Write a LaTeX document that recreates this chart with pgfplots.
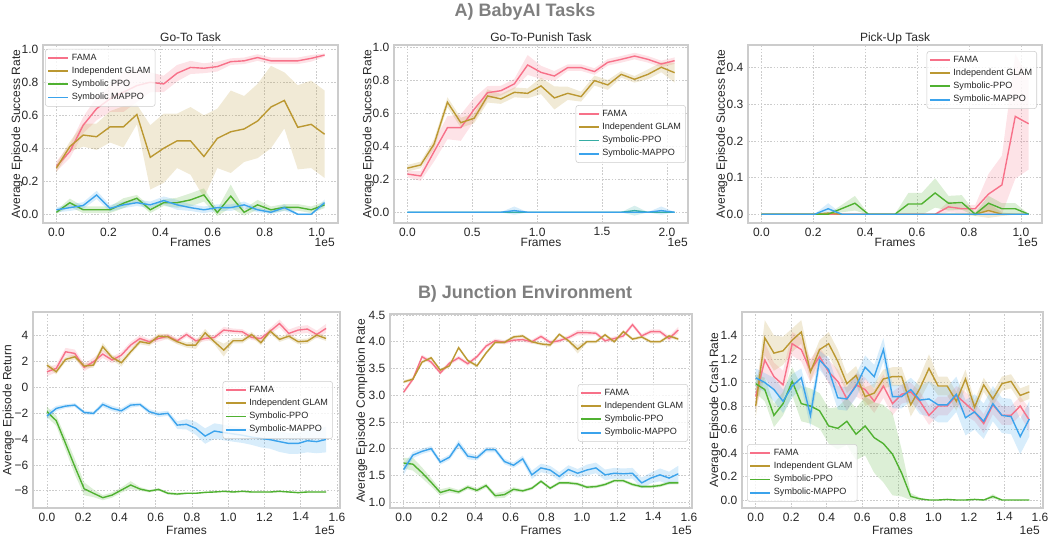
\documentclass[border=0pt]{standalone}
\usepackage{pgfplots}
\pgfplotsset{compat=1.18}
\usepackage{pgfplotstable}
\usepgfplotslibrary{fillbetween}
\usepackage{fontspec}
\setmainfont{Liberation Sans}
\definecolor{cF}{HTML}{F77189}
\definecolor{cG}{HTML}{BB9832}
\definecolor{cP}{HTML}{50B131}
\definecolor{cT}{HTML}{36ADA4}
\definecolor{cM}{HTML}{3BA3EC}
\definecolor{gridc}{HTML}{CCCCCC}
\definecolor{txt}{HTML}{262626}
\definecolor{head}{HTML}{7F7F7F}

\newcommand{\band}[5]{%
 \addplot[draw=none, forget plot, name path=#5U#2] table[x=x, y expr=\thisrow{#2}+\thisrow{#3}] {#1};
 \addplot[draw=none, forget plot, name path=#5L#2] table[x=x, y expr=\thisrow{#2}-\thisrow{#3}] {#1};
 \addplot[fill=#4, fill opacity=0.2, draw=none, forget plot] fill between[of=#5U#2 and #5L#2];
}
\newcommand{\lines}[4]{%
 \addplot[color=cF, forget plot] table[x=x,y=f] {#1};
 \addplot[color=cG, forget plot] table[x=x,y=g] {#1};
 \addplot[color=#2, forget plot] table[x=x,y=p] {#1};
 \addplot[color=cM, forget plot] table[x=x,y=m] {#1};
 \addlegendimage{legend image code/.code={\draw[cF, line width=1.4pt, opacity=1] (0pt,0pt) -- (15pt,0pt);}}\addlegendentry{FAMA}
 \addlegendimage{legend image code/.code={\draw[cG, line width=1.4pt, opacity=1] (0pt,0pt) -- (15pt,0pt);}}\addlegendentry{Independent GLAM}
 \addlegendimage{legend image code/.code={\draw[#2, line width=1.4pt, opacity=1] (0pt,0pt) -- (15pt,0pt);}}\addlegendentry{#3}
 \addlegendimage{legend image code/.code={\draw[cM, line width=1.4pt, opacity=1] (0pt,0pt) -- (15pt,0pt);}}\addlegendentry{#4}
}
\newcommand{\lab}{\fontsize{9}{10}\selectfont}

\pgfplotstableread{
x f fs g gs p ps m ms
0      0.29  0.03 0.28  0.025 0.012 0.01  0.027 0.015
0.0515 0.38  0.04 0.41  0.03  0.07  0.025 0.04  0.02
0.103  0.54  0.05 0.48  0.07  0.027 0.02  0.053 0.02
0.1545 0.64  0.07 0.47  0.08  0.027 0.02  0.117 0.025
0.206  0.70  0.08 0.53  0.095 0.027 0.02  0.036 0.02
0.2575 0.74  0.12 0.53  0.125 0.067 0.03  0.057 0.02
0.309  0.78  0.10 0.605 0.06  0.097 0.02  0.07  0.02
0.3605 0.80  0.06 0.345 0.195 0.027 0.02  0.057 0.02
0.412  0.79  0.05 0.40  0.21  0.07  0.02  0.083 0.025
0.4635 0.855 0.05 0.445 0.165 0.07  0.03  0.057 0.03
0.515  0.89  0.04 0.445 0.205 0.087 0.04  0.04  0.02
0.5665 0.885 0.03 0.35  0.25  0.117 0.04  0.027 0.02
0.618  0.895 0.03 0.46  0.18  0.01  0.02  0.04  0.02
0.6695 0.925 0.02 0.50  0.25  0.11  0.07  0.04  0.02
0.721  0.93  0.02 0.517 0.2   0.012 0.02  0.057 0.02
0.7725 0.95  0.02 0.565 0.225 0.057 0.03  0.027 0.015
0.824  0.93  0.02 0.65  0.25  0.027 0.02  0.012 0.01
0.8755 0.93  0.02 0.69  0.17  0.042 0.02  0.04  0.02
0.927  0.93  0.02 0.527 0.255 0.042 0.02  0     0.005
0.9785 0.945 0.02 0.545 0.265 0.027 0.02  0     0.005
1.03   0.965 0.01 0.485 0.265 0.057 0.02  0.07  0.02
}\tA

\pgfplotstableread{
x f fs g gs p ps m ms
0     0.232 0.02 0.267 0.02 0 0.001 0 0.001
0.103 0.22  0.03 0.287 0.02 0 0.001 0 0.001
0.206 0.368 0.06 0.414 0.03 0 0.001 0 0.001
0.309 0.513 0.07 0.667 0.03 0 0.001 0 0.001
0.412 0.513 0.08 0.543 0.03 0 0.001 0 0.001
0.515 0.624 0.07 0.57  0.03 0 0.001 0 0.001
0.618 0.725 0.04 0.705 0.04 0 0.001 0 0.001
0.721 0.737 0.03 0.687 0.03 0 0.001 0 0.001
0.824 0.778 0.03 0.727 0.03 0 0.001 0.01 0.025
0.927 0.893 0.06 0.721 0.03 0 0.001 0 0.001
1.03  0.848 0.04 0.766 0.05 0 0.001 0 0.001
1.133 0.826 0.03 0.693 0.07 0 0.001 0 0.001
1.236 0.877 0.02 0.721 0.04 0 0.001 0 0.001
1.339 0.877 0.02 0.701 0.03 0 0.001 0 0.001
1.442 0.853 0.02 0.798 0.03 0 0.001 0 0.001
1.545 0.909 0.02 0.772 0.03 0 0.001 0 0.001
1.648 0.927 0.02 0.836 0.02 0 0.001 0 0.001
1.751 0.947 0.02 0.806 0.02 0.01 0.03 0 0.001
1.854 0.927 0.02 0.836 0.03 0 0.001 0 0.001
1.957 0.899 0.02 0.879 0.03 0 0.001 0.01 0.025
2.06  0.919 0.02 0.846 0.06 0 0.001 0 0.001
}\tB

\pgfplotstableread{
x f fs g gs p ps m ms
0      0 0.001 0 0.001 0 0.001 0 0.001
0.0515 0 0.001 0 0.001 0 0.001 0 0.001
0.103  0 0.001 0 0.001 0 0.001 0 0.001
0.1545 0 0.001 0 0.001 0 0.001 0 0.001
0.206  0 0.001 0 0.001 0 0.001 0 0.001
0.2575 0 0.001 0.003 0.003 0 0.001 0.015 0.015
0.309  0 0.001 0 0.001 0.015 0.01 0 0.001
0.3605 0 0.001 0 0.001 0.03 0.02 0 0.001
0.412  0 0.001 0 0.001 0 0.001 0 0.001
0.4635 0 0.001 0 0.001 0 0.001 0 0.001
0.515  0 0.001 0 0.001 0 0.001 0 0.001
0.5665 0 0.001 0 0.001 0.028 0.03 0 0.001
0.618  0 0.001 0 0.001 0.028 0.03 0 0.001
0.6695 0 0.001 0 0.001 0.058 0.04 0 0.001
0.721  0.02 0.015 0 0.001 0.03 0.02 0 0.001
0.7725 0.015 0.012 0 0.001 0.032 0.02 0 0.001
0.824  0.015 0.01 0 0.005 0 0.005 0 0.001
0.8755 0.055 0.055 0.01 0.02 0.03 0.02 0 0.001
0.927  0.08 0.08 0 0.005 0.015 0.015 0 0.001
0.9785 0.267 0.17 0 0.001 0.015 0.015 0 0.001
1.03   0.247 0.125 0 0.001 0 0.001 0 0.001
}\tC

\pgfplotstableread{
x f fs g gs p ps m ms
0 1.21 0.35 1.73 0.2 -1.88 0.4 -2.22 0.3
0.0513 1.47 0.3 1.21 0.2 -2.58 0.4 -1.63 0.2
0.1027 2.76 0.3 2.17 0.2 -4.34 0.5 -1.45 0.15
0.154 2.63 0.3 2.37 0.2 -6.14 0.6 -1.37 0.15
0.2053 1.55 0.3 1.65 0.2 -7.85 0.5 -1.94 0.15
0.2567 1.99 0.3 1.73 0.2 -8.2 0.3 -2.01 0.15
0.308 2.58 0.3 3.15 0.3 -8.54 0.2 -1.32 0.2
0.3593 2.12 0.25 2.32 0.2 -8.34 0.2 -1.63 0.2
0.4107 2.5 0.25 1.91 0.3 -7.95 0.2 -1.81 0.2
0.462 3.28 0.25 2.76 0.2 -7.56 0.3 -1.37 0.2
0.5133 3.79 0.25 3.54 0.2 -7.87 0.15 -1.32 0.15
0.5647 3.54 0.2 3.41 0.2 -8.03 0.1 -1.88 0.2
0.616 3.79 0.25 3.97 0.2 -7.9 0.1 -2.09 0.2
0.6673 3.97 0.2 3.92 0.2 -8.2 0.1 -2.01 0.2
0.7187 3.61 0.2 3.54 0.2 -8.26 0.1 -2.92 0.3
0.77 4.1 0.2 3.28 0.2 -8.2 0.05 -2.86 0.4
0.8213 3.61 0.2 3.28 0.3 -8.2 0.05 -3.17 0.5
0.8727 3.79 0.2 4.23 0.3 -8.13 0.05 -3.77 0.6
0.924 3.87 0.2 3.54 0.2 -8.1 0.05 -3.38 0.6
0.9753 4.44 0.25 2.89 0.5 -8.05 0.05 -3.5 0.6
1.0267 4.36 0.2 3.61 0.2 -8.1 0.05 -3.6 0.6
1.078 4.31 0.2 3.61 0.2 -8.05 0.05 -3.7 0.6
1.1293 3.87 0.2 4.1 0.2 -8.1 0.05 -3.85 0.6
1.1807 3.79 0.2 3.46 0.2 -8.1 0.05 -3.95 0.7
1.232 4.36 0.25 4.36 0.2 -8.1 0.05 -4.05 0.7
1.2833 4.95 0.3 3.72 0.2 -8.05 0.05 -4.2 0.8
1.3347 4.18 0.3 3.97 0.2 -8.1 0.05 -4.34 0.8
1.386 4.44 0.3 3.54 0.2 -8.15 0.05 -4.34 0.8
1.4373 4.52 0.3 3.59 0.2 -8.1 0.05 -4.13 0.9
1.4887 4.1 0.3 4.05 0.2 -8.1 0.05 -4.2 0.9
1.54 4.57 0.35 3.79 0.2 -8.1 0.05 -4.03 1.0
}\tD

\pgfplotstableread{
x f fs g gs p ps m ms
0 3.06 0.04 3.25 0.03 1.73 0.1 1.61 0.1
0.0513 3.30 0.04 3.30 0.03 1.71 0.12 1.88 0.06
0.1027 3.72 0.04 3.62 0.03 1.55 0.1 1.95 0.05
0.154 3.62 0.04 3.70 0.03 1.37 0.08 2.0 0.05
0.2053 3.42 0.04 3.47 0.03 1.18 0.06 1.75 0.05
0.2567 3.60 0.04 3.55 0.03 1.23 0.05 1.84 0.05
0.308 3.70 0.04 3.89 0.03 1.19 0.04 2.09 0.07
0.3593 3.59 0.04 3.65 0.03 1.28 0.04 1.86 0.06
0.4107 3.72 0.04 3.55 0.03 1.22 0.04 1.83 0.05
0.462 3.92 0.04 3.79 0.03 1.31 0.04 1.98 0.05
0.5133 4.02 0.04 3.99 0.03 1.12 0.05 1.98 0.05
0.5647 3.99 0.04 3.99 0.03 1.14 0.06 1.76 0.05
0.616 4.03 0.04 4.09 0.03 1.24 0.04 1.69 0.05
0.6673 4.04 0.04 4.11 0.03 1.21 0.03 1.81 0.06
0.7187 4.00 0.04 4.00 0.03 1.26 0.03 1.51 0.08
0.77 4.10 0.04 3.96 0.03 1.39 0.03 1.64 0.08
0.8213 3.99 0.04 3.94 0.04 1.26 0.03 1.60 0.08
0.8727 4.02 0.04 4.14 0.03 1.36 0.03 1.48 0.08
0.924 4.08 0.04 4.02 0.03 1.36 0.03 1.61 0.08
0.9753 4.17 0.05 3.86 0.08 1.34 0.03 1.54 0.08
1.0267 4.17 0.05 4.00 0.03 1.28 0.03 1.60 0.1
1.078 4.16 0.04 4.00 0.03 1.29 0.03 1.64 0.1
1.1293 4.02 0.04 4.13 0.03 1.33 0.03 1.51 0.1
1.1807 4.06 0.04 4.00 0.03 1.40 0.03 1.54 0.1
1.232 4.11 0.04 4.19 0.03 1.40 0.03 1.53 0.1
1.2833 4.32 0.04 4.05 0.03 1.33 0.03 1.54 0.1
1.3347 4.11 0.04 4.09 0.03 1.29 0.03 1.36 0.1
1.386 4.19 0.04 4.00 0.03 1.29 0.03 1.45 0.1
1.4373 4.19 0.04 4.00 0.03 1.31 0.03 1.51 0.12
1.4887 4.06 0.05 4.11 0.03 1.36 0.03 1.45 0.12
1.54 4.22 0.06 4.05 0.03 1.36 0.03 1.53 0.15
}\tE

\pgfplotstableread{
x f fs g gs p ps m ms
0 0.88 0.1 0.80 0.1 0.99 0.08 1.04 0.08
0.0513 1.19 0.15 1.38 0.15 0.94 0.1 1.00 0.08
0.1027 1.05 0.12 1.25 0.15 0.72 0.1 0.94 0.1
0.154 0.98 0.12 1.27 0.12 0.82 0.1 0.84 0.1
0.2053 1.33 0.1 1.36 0.1 1.01 0.12 0.97 0.1
0.2567 1.28 0.1 1.43 0.1 0.82 0.15 1.04 0.08
0.308 1.10 0.1 1.09 0.08 0.80 0.15 0.72 0.1
0.3593 1.22 0.08 1.28 0.08 0.76 0.15 1.19 0.08
0.4107 1.09 0.1 1.33 0.1 0.63 0.15 1.11 0.1
0.462 1.01 0.1 1.18 0.1 0.61 0.18 0.87 0.1
0.5133 0.86 0.1 0.99 0.08 0.67 0.2 0.86 0.1
0.5647 0.98 0.1 1.06 0.08 0.56 0.22 0.97 0.1
0.616 0.94 0.1 0.88 0.08 0.63 0.25 1.13 0.1
0.6673 0.84 0.1 0.91 0.08 0.53 0.3 1.05 0.1
0.7187 0.97 0.1 1.03 0.08 0.48 0.33 1.28 0.1
0.77 0.82 0.1 1.05 0.08 0.39 0.35 0.88 0.1
0.8213 0.90 0.08 1.05 0.08 0.23 0.2 0.88 0.1
0.8727 0.92 0.08 0.81 0.1 0.03 0.03 0.94 0.1
0.924 0.84 0.08 0.95 0.1 0.01 0.01 0.85 0.12
0.9753 0.72 0.08 1.12 0.12 0 0.002 0.86 0.15
1.0267 0.80 0.08 0.97 0.08 0 0.002 0.81 0.15
1.078 0.80 0.08 0.97 0.08 0.005 0.005 0.81 0.15
1.1293 0.89 0.08 0.84 0.08 0 0.002 0.90 0.15
1.1807 0.82 0.1 1.03 0.08 0 0.002 0.70 0.15
1.232 0.75 0.08 0.79 0.06 0.005 0.005 0.75 0.15
1.2833 0.65 0.08 0.98 0.06 0 0.002 0.67 0.15
1.3347 0.81 0.08 0.86 0.06 0.03 0.02 0.82 0.15
1.386 0.72 0.08 0.99 0.06 0 0.002 0.72 0.15
1.4373 0.72 0.08 1.01 0.06 0 0.002 0.71 0.15
1.4887 0.80 0.08 0.89 0.06 0 0.002 0.54 0.15
1.54 0.68 0.1 0.92 0.06 0 0.002 0.69 0.15
}\tF

\pgfplotsset{
 base/.style={
  scale only axis, anchor=south west,
  axis line style={gridc, line width=0.8pt},
  grid=major, major grid style={gridc, dash pattern=on 1.2pt off 1.2pt, line width=0.5pt},
  tick style={draw=none},
  ticklabel style={font=\lab, text=txt},
  x tick label style={/pgf/number format/.cd, assume math mode=true, fixed, fixed zerofill, precision=1, /tikz/.cd},
  y tick label style={/pgf/number format/.cd, assume math mode=true, fixed, fixed zerofill, precision=1, /tikz/.cd},
  scaled ticks=false,
  legend style={font=\fontsize{6.8}{8}\selectfont, text=txt, draw=gridc, fill=white, fill opacity=0.8, text opacity=1, draw opacity=1, rounded corners=2pt, inner sep=1.5pt, row sep=-0.5pt},
  legend cell align=left,
  every axis plot/.append style={line width=1.05pt},
 },
}
\tikzset{lbl/.style={inner sep=0pt, font=\lab, text=txt}}

\begin{document}
\begin{tikzpicture}
\node[anchor=base, font=\fontsize{13.5}{15}\selectfont\bfseries, text=head, inner sep=0pt] at (393.75pt,391.5pt) {A) BabyAI Tasks};
\node[anchor=base, font=\fontsize{13.5}{15}\selectfont\bfseries, text=head, inner sep=0pt] at (393.75pt,180.4pt) {B) Junction Environment};

% 1 Go-To
\begin{axis}[base, at={(32.25pt,237pt)}, width=221.25pt, height=133.5pt,
 xmin=-0.0515, xmax=1.0815, ymin=-0.053, ymax=1.026,
 xtick={0,0.2,0.4,0.6,0.8,1.0}, ytick={0,0.2,0.4,0.6,0.8,1.0},
 legend style={at={(0.007,0.978)}, anchor=north west}]
 \band{\tA}{f}{fs}{cF}{A}
 \band{\tA}{g}{gs}{cG}{A}
 \band{\tA}{p}{ps}{cP}{A}
 \band{\tA}{m}{ms}{cM}{A}
 \lines{\tA}{cP}{Symbolic PPO}{Symbolic MAPPO}
\end{axis}

% 2 Go-To-Punish
\begin{axis}[base, at={(295.5pt,237pt)}, width=220.5pt, height=133.5pt,
 xmin=-0.103, xmax=2.163, ymin=-0.065, ymax=1.014,
 xtick={0,0.5,1.0,1.5,2.0}, ytick={0,0.2,0.4,0.6,0.8,1.0},
 legend style={at={(0.993,0.5)}, anchor=east}]
 \band{\tB}{f}{fs}{cF}{B}
 \band{\tB}{g}{gs}{cG}{B}
 \band{\tB}{p}{ps}{cT}{B}
 \band{\tB}{m}{ms}{cM}{B}
 \lines{\tB}{cT}{Symbolic-PPO}{Symbolic-MAPPO}
\end{axis}

% 3 Pick-Up
\begin{axis}[base, at={(561pt,237pt)}, width=220.5pt, height=133.5pt,
 xmin=-0.0515, xmax=1.0815, ymin=-0.024, ymax=0.462,
 xtick={0,0.2,0.4,0.6,0.8,1.0}, ytick={0,0.1,0.2,0.3,0.4},
 legend style={at={(0.983,0.966)}, anchor=north east}]
 \band{\tC}{f}{fs}{cF}{C}
 \band{\tC}{g}{gs}{cG}{C}
 \band{\tC}{p}{ps}{cP}{C}
 \band{\tC}{m}{ms}{cM}{C}
 \lines{\tC}{cP}{Symbolic-PPO}{Symbolic-MAPPO}
\end{axis}

% 4 Return
\begin{axis}[base, at={(24.75pt,23.25pt)}, width=230.25pt, height=147pt,
 xmin=-0.077, xmax=1.617, ymin=-9.34, ymax=5.84,
 xtick={0,0.2,0.4,0.6,0.8,1.0,1.2,1.4,1.6}, ytick={-8,-6,-4,-2,0,2,4},
 yticklabels={−8,−6,−4,−2,0,2,4},
 legend style={at={(0.977,0.5)}, anchor=east}]
 \band{\tD}{f}{fs}{cF}{D}
 \band{\tD}{g}{gs}{cG}{D}
 \band{\tD}{p}{ps}{cP}{D}
 \band{\tD}{m}{ms}{cM}{D}
 \lines{\tD}{cP}{Symbolic-PPO}{Symbolic-MAPPO}
\end{axis}

% 5 Completion
\begin{axis}[base, at={(292.5pt,23.25pt)}, width=226.5pt, height=145.5pt,
 xmin=-0.077, xmax=1.617, ymin=0.89, ymax=4.52,
 xtick={0,0.2,0.4,0.6,0.8,1.0,1.2,1.4,1.6}, ytick={1.0,1.5,2.0,2.5,3.0,3.5,4.0,4.5},
 legend style={at={(0.987,0.49)}, anchor=east}]
 \band{\tE}{f}{fs}{cF}{E}
 \band{\tE}{g}{gs}{cG}{E}
 \band{\tE}{p}{ps}{cP}{E}
 \band{\tE}{m}{ms}{cM}{E}
 \lines{\tE}{cP}{Symbolic-PPO}{Symbolic-MAPPO}
\end{axis}

% 6 Crash
\begin{axis}[base, at={(556.5pt,23.25pt)}, width=225.75pt, height=147pt,
 xmin=-0.077, xmax=1.617, ymin=-0.068, ymax=1.60,
 xtick={0,0.2,0.4,0.6,0.8,1.0,1.2,1.4,1.6}, ytick={0,0.2,0.4,0.6,0.8,1.0,1.2,1.4},
 legend style={at={(0.017,0.031)}, anchor=south west}]
 \band{\tF}{f}{fs}{cF}{F}
 \band{\tF}{g}{gs}{cG}{F}
 \band{\tF}{p}{ps}{cP}{F}
 \band{\tF}{m}{ms}{cM}{F}
 \lines{\tF}{cP}{Symbolic-PPO}{Symbolic-MAPPO}
\end{axis}

% titles
\node[lbl, anchor=base] at (142.9pt,372.75pt) {Go-To Task};
\node[lbl, anchor=base] at (405.75pt,372.75pt) {Go-To-Punish Task};
\node[lbl, anchor=base] at (671.25pt,372.75pt) {Pick-Up Task};
% x labels
\node[lbl, anchor=base] at (142.9pt,219.4pt) {Frames};
\node[lbl, anchor=base] at (405.75pt,219.4pt) {Frames};
\node[lbl, anchor=base] at (671.25pt,219.4pt) {Frames};
\node[lbl, anchor=base] at (139.9pt,3.6pt) {Frames};
\node[lbl, anchor=base] at (405.75pt,3.6pt) {Frames};
\node[lbl, anchor=base] at (669.4pt,3.6pt) {Frames};
% scale labels
\node[lbl, anchor=base east] at (251.25pt,219.0pt) {1e5};
\node[lbl, anchor=base east] at (516pt,219.0pt) {1e5};
\node[lbl, anchor=base east] at (778.5pt,219.0pt) {1e5};
\node[lbl, anchor=base east] at (251.25pt,3.6pt) {1e5};
\node[lbl, anchor=base east] at (519pt,3.6pt) {1e5};
\node[lbl, anchor=base east] at (780pt,3.6pt) {1e5};
% y labels
\node[lbl, rotate=90] at (12.75pt,303.75pt) {Average Episode Success Rate};
\node[lbl, rotate=90] at (276.2pt,303.75pt) {Average Episode Success Rate};
\node[lbl, rotate=90] at (541.3pt,303.75pt) {Average Episode Success Rate};
\node[lbl, rotate=90] at (6.2pt,96.75pt) {Average Episode Return};
\node[lbl, rotate=90] at (271.3pt,96pt) {Average Episode Completion Rate};
\node[lbl, rotate=90] at (536.25pt,96.75pt) {Average Episode Crash Rate};

\pgfresetboundingbox
\path[use as bounding box] (0,0) rectangle (787.5pt,404.25pt);
\end{tikzpicture}
\end{document}
